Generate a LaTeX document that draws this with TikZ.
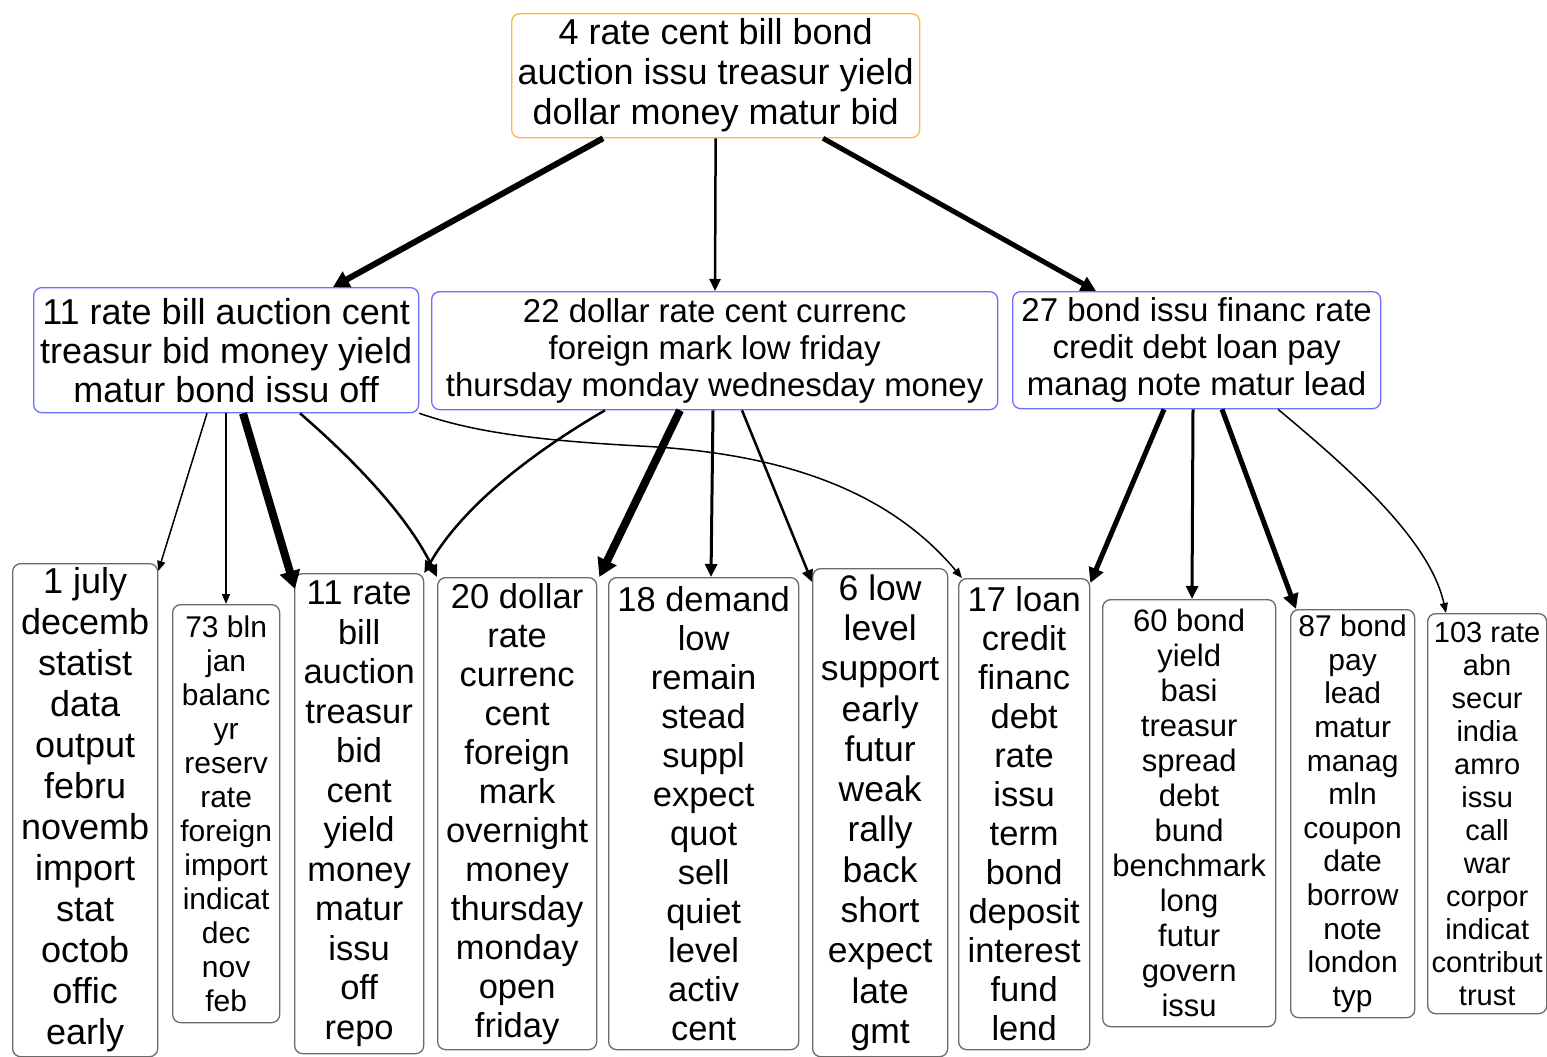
\documentclass[tikz,border=0pt]{standalone}
\usepackage{fontspec}
\setmainfont{Liberation Sans}
\usetikzlibrary{arrows.meta}
\definecolor{toporange}{HTML}{FFB840}
\definecolor{midblue}{HTML}{6E6EFF}
\definecolor{leafgray}{HTML}{6A6A6A}
\tikzset{
  box/.style={draw, line width=1.3pt, rounded corners=8pt, anchor=north west,
    inner sep=0pt, align=center, text=black},
  topbox/.style={box, draw=toporange},
  midbox/.style={box, draw=midblue},
  leafbox/.style={box, draw=leafgray},
  fs/.style 2 args={font=\fontsize{#1}{#2}\selectfont},
  ea/.style={line width=1.5pt, -{Triangle[length=10pt,width=8pt]}},
  eb/.style={line width=2.5pt, -{Triangle[length=12pt,width=11pt]}},
  ec/.style={line width=3pt, -{Triangle[length=13pt,width=12pt]}},
  ed/.style={line width=5pt, -{Triangle[length=15pt,width=15pt]}},
  ee/.style={line width=6pt, -{Triangle[length=16pt,width=17pt]}},
  ef/.style={line width=8pt, -{Triangle[length=18pt,width=20pt]}},
}
\begin{document}
\begin{tikzpicture}[x=1pt,y=-1pt]
\fill[white] (0,0) rectangle (1547,1057);
\useasboundingbox (0,0) rectangle (1547,1057);

% top
\node[topbox, fs={36}{40}, minimum width=408pt, minimum height=124pt] (T) at (511,13)
  {4 rate cent bill bond\\auction issu treasur yield\\dollar money matur bid};

% middle
\node[midbox, fs={36}{39}, minimum width=385pt, minimum height=125pt] (B11) at (33,287)
  {11 rate bill auction cent\\treasur bid money yield\\matur bond issu off};
\node[midbox, fs={33}{37}, minimum width=566pt, minimum height=118pt] (B22) at (431,291)
  {22 dollar rate cent currenc\\foreign mark low friday\\thursday monday wednesday money};
\node[midbox, fs={33}{37}, minimum width=368pt, minimum height=117pt] (B27) at (1012,291)
  {27 bond issu financ rate\\credit debt loan pay\\manag note matur lead};

% leaves
\node[leafbox, fs={36}{41}, minimum width=145pt, minimum height=493pt] (L1) at (12,563)
  {1 july\\decemb\\statist\\data\\output\\febru\\novemb\\import\\stat\\octob\\offic\\early};
\node[leafbox, fs={30}{34}, minimum width=107pt, minimum height=418pt] (L73) at (172,604)
  {73 bln\\jan\\balanc\\yr\\reserv\\rate\\foreign\\import\\indicat\\dec\\nov\\feb};
\node[leafbox, fs={34.5}{39.5}, minimum width=129pt, minimum height=480pt] (L11) at (294,573)
  {11 rate\\bill\\auction\\treasur\\bid\\cent\\yield\\money\\matur\\issu\\off\\repo};
\node[leafbox, fs={34.5}{39}, minimum width=159pt, minimum height=472pt] (L20) at (437,577)
  {20 dollar\\rate\\currenc\\cent\\foreign\\mark\\overnight\\money\\thursday\\monday\\open\\friday};
\node[leafbox, fs={34.5}{39}, minimum width=190pt, minimum height=472pt] (L18) at (608,577)
  {18 demand\\low\\remain\\stead\\suppl\\expect\\quot\\sell\\quiet\\level\\activ\\cent};
\node[leafbox, fs={35.5}{40.3}, minimum width=135pt, minimum height=488pt] (L6) at (812,568)
  {6 low\\level\\support\\early\\futur\\weak\\rally\\back\\short\\expect\\late\\gmt};
\node[leafbox, fs={34.5}{39}, minimum width=131pt, minimum height=471pt] (L17) at (958,578)
  {17 loan\\credit\\financ\\debt\\rate\\issu\\term\\bond\\deposit\\interest\\fund\\lend};
\node[leafbox, fs={31}{35}, minimum width=173pt, minimum height=427pt] (L60) at (1102,599)
  {60 bond\\yield\\basi\\treasur\\spread\\debt\\bund\\benchmark\\long\\futur\\govern\\issu};
\node[leafbox, fs={30}{33.6}, minimum width=124pt, minimum height=408pt] (L87) at (1290,609)
  {87 bond\\pay\\lead\\matur\\manag\\mln\\coupon\\date\\borrow\\note\\london\\typ};
\node[leafbox, fs={29}{33}, minimum width=119pt, minimum height=400pt] (L103) at (1427,613)
  {103 rate\\abn\\secur\\india\\amro\\issu\\call\\war\\corpor\\indicat\\contribut\\trust};

% edges from top
\draw[ee] ([xshift=92pt]T.south west) -- ([xshift=300pt]B11.north west);
\draw[eb] (T.south) -- ([xshift=284pt]B22.north west);
\draw[ed] ([xshift=312pt]T.south west) -- ([xshift=84pt]B27.north west);

% edges from B11
\draw[ea] ([xshift=174pt]B11.south west) -- ([yshift=-8pt]L1.north east);
\draw[ea] ([xshift=193pt]B11.south west) -- ([xshift=54pt]L73.north west);
\draw[ef] ([xshift=210pt]B11.south west) -- ([xshift=1pt,yshift=-16pt]L11.north west);
\draw[eb] ([xshift=267pt]B11.south west) .. controls +(60,52) and +(-27,-57) .. (L20.north west);
\draw[ea] (B11.south east) .. controls +(52,18) and +(-110,-6) .. (640,446)
  .. controls +(120,6) and +(-82,-98) .. ([xshift=4pt]L17.north west);

% edges from B22
\draw[eb] ([xshift=174pt]B22.south west) .. controls +(-60,35) and +(42,-73) .. (L11.north east);
\draw[ef] ([xshift=249pt]B22.south west) -- ([xshift=2pt]L20.north east);
\draw[ec] ([xshift=282pt]B22.south west) -- ([xshift=103pt]L18.north west);
\draw[eb] ([xshift=311pt]B22.south west) -- ([yshift=-14pt]L6.north west);

% edges from B27
\draw[ed] ([xshift=152pt]B27.south west) -- ([yshift=-5pt]L17.north east);
\draw[ec] ([xshift=181pt]B27.south west) -- ([xshift=90pt]L60.north west);
\draw[ed] ([xshift=210pt]B27.south west) -- ([xshift=6pt]L87.north west);
\draw[ea] ([xshift=266pt]B27.south west) .. controls +(72,60) and +(-16,-73) .. ([xshift=19pt]L103.north west);
\end{tikzpicture}
\end{document}
